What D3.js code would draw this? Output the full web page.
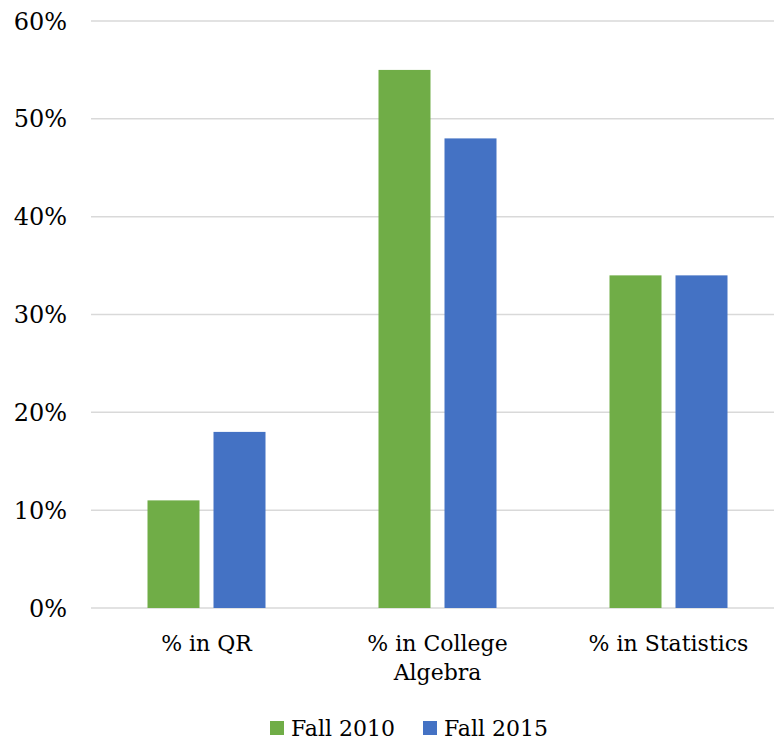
<!DOCTYPE html>
<html>
<head>
<meta charset="utf-8">
<script src="https://cdn.jsdelivr.net/npm/d3@7"></script>
<style>
  body { margin: 0; background: #fff; }
  text { font-family: "DejaVu Serif", "Liberation Serif", serif; fill: #000; }
</style>
</head>
<body>
<div id="chart"></div>
<script>
var categories = [["% in QR"], ["% in College", "Algebra"], ["% in Statistics"]];
var seriesNames = ["Fall 2010", "Fall 2015"];
var fall2010 = [0.11, 0.55, 0.34];
var fall2015 = [0.18, 0.48, 0.34];
var yTicks = [0, 0.1, 0.2, 0.3, 0.4, 0.5, 0.6];
var colors = ["#70AD47", "#4472C4"];

var svgWidth = 774;
var svgHeight = 741;

var svg = d3.select("#chart")
    .append("svg")
    .attr("width", svgWidth)
    .attr("height", svgHeight);

var xScale = d3.scaleBand()
    .domain(d3.range(categories.length))
    .range([91, 784]);

var yScale = d3.scaleLinear()
    .domain([0, 0.6])
    .range([608, 21]);

// gridlines
svg.append("g")
    .selectAll("line")
    .data(yTicks)
    .enter()
    .append("line")
    .attr("x1", 91)
    .attr("x2", 784)
    .attr("y1", d => yScale(d))
    .attr("y2", d => yScale(d))
    .attr("stroke", "#D9D9D9")
    .attr("stroke-width", 1.5);

// y tick labels
svg.append("g")
    .selectAll("text")
    .data(yTicks)
    .enter()
    .append("text")
    .attr("x", 67)
    .attr("y", d => yScale(d))
    .attr("dy", "0.36em")
    .attr("text-anchor", "end")
    .style("font-size", "24px")
    .text(d => d3.format(".0%")(d));

// bars
var barWidth = 52;
var gap = 14;
[fall2010, fall2015].forEach(function (values, s) {
    svg.append("g")
        .selectAll("rect")
        .data(values)
        .enter()
        .append("rect")
        .attr("x", (d, i) => xScale(i) + xScale.bandwidth() / 2 - barWidth - gap / 2 + s * (barWidth + gap))
        .attr("y", d => yScale(d))
        .attr("width", barWidth)
        .attr("height", d => yScale(0) - yScale(d))
        .attr("fill", colors[s]);
});

// x labels
var xLabels = svg.append("g")
    .selectAll("text")
    .data(categories)
    .enter()
    .append("text")
    .attr("x", (d, i) => xScale(i) + xScale.bandwidth() / 2)
    .attr("y", 651)
    .attr("text-anchor", "middle")
    .style("font-size", "22px");

xLabels.selectAll("tspan")
    .data(d => d)
    .enter()
    .append("tspan")
    .attr("x", function () { return d3.select(this.parentNode).attr("x"); })
    .attr("dy", (d, j) => j === 0 ? 0 : 29)
    .text(d => d);

// legend
var legendX = [270, 423];
var legend = svg.append("g")
    .selectAll("g")
    .data(seriesNames)
    .enter()
    .append("g")
    .attr("transform", (d, i) => `translate(${legendX[i]}, 0)`);

legend.append("rect")
    .attr("x", 0)
    .attr("y", 721)
    .attr("width", 14)
    .attr("height", 14)
    .attr("fill", (d, i) => colors[i]);

legend.append("text")
    .attr("x", 21)
    .attr("y", 736)
    .style("font-size", "22px")
    .text(d => d);
</script>
</body>
</html>
